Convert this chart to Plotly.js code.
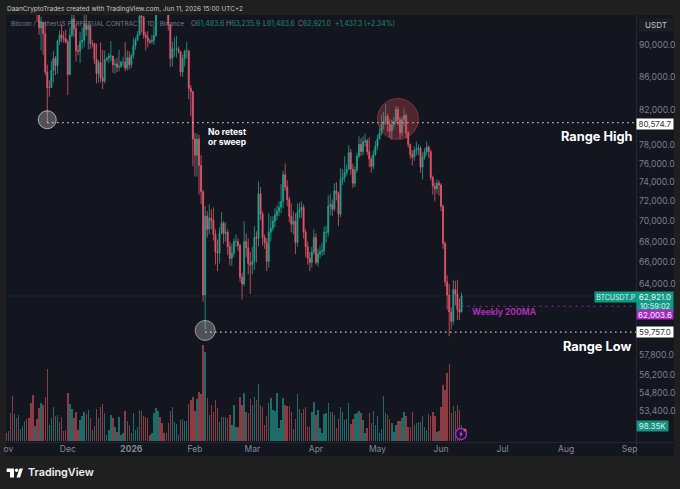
<!DOCTYPE html>
<html><head><meta charset="utf-8">
<script src="https://cdn.plot.ly/plotly-3.0.1.min.js"></script>
<style>html,body{margin:0;padding:0;background:#1f1f1f;overflow:hidden}#c{width:680px;height:489px}</style>
</head><body><div id="c"></div>
<script>
const firstDay = "2025-11-01";
const opens = [110200,110000,110500,106500,101500,103900,101300,103300,102300,104700,
106000,103000,101600,99700,94900,95600,94200,92200,93000,91500,
86600,84700,84700,86800,88300,87400,90500,91300,90900,90800,
90400,86300,91300,93400,92100,89300,89200,90400,90600,92700,
92000,92500,90200,90200,88200,86400,87800,85900,85500,88100,
88300,88600,88600,87500,87600,87200,87300,87800,87800,87100,
88400,87500,88700,89900,90600,91300,93800,93700,91300,91000,
90500,90400,90600,91200,95400,96900,95600,95500,95100,95100,
92600,88300,89500,89500,89500,89200,86600,88300,89200,89200,
84600,84200,78700,76900,78700,75800,73000,63000,70500,69200,
70300,70100,68700,67000,66900,68800,69800,68800,68900,67500,
66400,66900,68000,68000,67600,64600,64000,68000,67400,65900,
65800,66100,68400,68300,72800,70700,68400,67900,66100,68900,
69300,70000,70600,71000,71400,72000,74800,73500,72200,70500,
69700,70000,67900,70900,71200,71400,68900,67500,66400,66000,
67000,68400,66000,66800,67000,67100,68900,68900,71500,71700,
71200,73100,72800,70700,74300,74500,75000,75400,77200,75400,
73900,75300,76800,78100,77300,78400,78500,77300,76500,75700,
77000,77900,78700,79400,80400,80700,81300,80400,79600,80300,
80700,82100,80900,79400,80900,81400,79400,78100,77000,76700,
77400,77600,77700,75600,76700,77300,77800,77300,74500,73600,
73300,73900,73700,71500,67800,64200,63000,61500,60700,63500,
63100,61700,61483.6];
const highs = [111000,111200,110800,107000,104500,104000,104000,103900,105000,106700,
107500,103700,102000,99800,97400,96500,95900,93700,93000,93000,
87500,85600,88000,89200,88600,90700,91900,92700,91800,92000,
90700,92300,94100,94000,92700,90000,91700,92300,94500,94400,
93000,92800,90600,89700,90200,88100,90300,89400,89300,88500,
89000,90500,88000,88200,88400,89400,88000,88500,90400,89300,
89200,88900,90900,91000,91800,94700,94500,93700,91700,91800,
90800,91300,92400,96200,97900,97000,95800,95600,95500,93300,
92700,90400,91000,91200,89800,89200,88800,89400,90400,89400,
85000,84300,79400,79300,79200,76900,73200,71500,71000,71700,
71200,71400,69200,68200,69400,70900,70000,69900,69200,68000,
67800,68300,68700,68300,67800,65000,70000,68800,68300,67000,
67500,69500,69000,74100,73500,71000,68700,68300,70800,70500,
70500,71300,71600,72000,73800,75200,76000,74200,72500,71800,
71000,70800,71800,71900,72000,71700,69200,68000,67000,67500,
69200,68800,67300,67600,67900,69500,69500,72600,72800,72200,
73900,74000,73000,75500,75400,76800,75900,78000,77600,76000,
75700,77200,79000,78800,79000,79300,78700,78900,76800,77500,
78500,79200,79900,81500,81800,82700,81600,81000,80900,81200,
82500,82400,81200,81300,82200,81600,79600,78200,77500,77900,
78400,78100,77900,77200,77700,78400,78000,77500,74700,74000,
74300,74200,73900,71700,68000,64800,64000,61900,64400,64300,
64400,62700,63235.9];
const lows = [109500,109000,105500,99000,100000,100500,100800,101500,101800,105000,
102500,100800,98000,94900,94700,93000,91300,89300,88700,86200,
80600,83600,85300,85300,86200,86400,90000,90300,90300,90200,
83800,86200,91000,91000,87900,88700,87700,89500,89700,91200,
89400,89500,89700,87600,85200,85300,85300,84500,85200,87900,
87700,87900,86500,86400,86600,86700,87100,87300,86700,86800,
86900,87100,88300,89400,90500,91200,91600,90800,89300,89700,
90100,90200,90000,91100,94500,95000,94300,94900,94500,91900,
87200,87300,88500,88400,88900,86100,86000,87300,88300,83300,
81300,75700,74600,74600,72700,71700,62400,60000,68400,68700,
69200,68100,65800,65200,65900,68700,67800,68000,66700,65700,
65700,66500,67500,67100,64200,62600,63800,66500,64900,63100,
64900,65300,66000,67500,70100,67600,67300,65200,65500,68000,
69000,69400,70100,70500,70800,71300,73100,71500,69900,68900,
68700,66800,67500,70300,70300,68300,66500,65800,65200,65500,
66700,65800,65600,66400,66600,66700,67900,68500,70600,70500,
71000,72100,69500,70400,73700,74000,74700,75300,74800,73400,
73500,75000,76600,76800,76900,77900,76900,75600,75000,75400,
76800,77500,78700,79100,79800,80300,79500,78800,78600,79800,
80400,80200,78700,79000,80100,78800,77700,76500,75800,76300,
76900,76900,75000,74300,76400,76900,76600,74200,72700,72000,
72800,72600,71000,67300,63800,61700,59400,60000,60400,62100,
60800,60800,61483.6];
const closes = [110000,110500,106500,101500,103900,101300,103300,102300,104700,106000,
103000,101600,99700,94900,95600,94200,92200,93000,91500,86600,
84700,84700,86800,88300,87400,90500,91300,90900,90800,90400,
86300,91300,93400,92100,89300,89200,90400,90600,92700,92000,
92500,90200,90200,88200,86400,87800,85900,85500,88100,88300,
88600,88600,87500,87600,87200,87300,87800,87800,87100,88400,
87500,88700,89900,90600,91300,93800,93700,91300,91000,90500,
90400,90600,91200,95400,96900,95600,95500,95100,95100,92600,
88300,89500,89500,89500,89200,86600,88300,89200,89200,84600,
84200,78700,76900,78700,75800,73000,63000,70500,69200,70300,
70100,68700,67000,66900,68800,69800,68800,68900,67500,66400,
66900,68000,68000,67600,64600,64000,68000,67400,65900,65800,
66100,68400,68300,72800,70700,68400,67900,66100,68900,69300,
70000,70600,71000,71400,72000,74800,73500,72200,70500,69700,
70000,67900,70900,71200,71400,68900,67500,66400,66000,67000,
68400,66000,66800,67000,67100,68900,68900,71500,71700,71200,
73100,72800,70700,74300,74500,75000,75400,77200,75400,73900,
75300,76800,78100,77300,78400,78500,77300,76500,75700,77000,
77900,78700,79400,80400,80700,81300,80400,79600,80300,80700,
82100,80900,79400,80900,81400,79400,78100,77000,76700,77400,
77600,77700,75600,76700,77300,77800,77300,74500,73600,73300,
73900,73700,71500,67800,64200,63000,61500,60700,63500,63100,
61700,61483.6,62921];
const volumesK = [49,62,172,277,166,141,160,74,92,123,
135,141,234,283,92,135,203,234,221,271,
443,98,141,209,154,160,117,148,62,68,
295,228,197,141,178,68,129,154,178,166,
191,141,68,92,197,141,209,228,172,37,
68,160,141,86,55,148,37,49,185,123,
98,49,172,68,86,191,185,154,148,141,
37,49,172,203,185,148,111,49,49,111,
185,209,117,105,37,129,135,123,123,228,
252,271,185,258,301,289,590,547,264,160,
221,178,252,203,117,148,148,148,141,160,
98,221,86,86,271,221,295,178,172,258,
221,271,252,351,221,209,98,154,234,264,
191,185,295,80,129,264,221,215,215,178,
74,135,289,197,172,197,209,92,86,178,
240,160,191,80,49,166,172,234,178,178,
160,80,135,209,178,129,135,234,105,135,
166,172,185,172,129,49,80,172,111,185,
98,154,49,74,277,172,160,135,111,55,
98,123,123,141,178,154,86,86,178,98,
111,117,117,154,86,68,166,154,178,154,
55,62,209,344,314,418,474,172,215,185,
221,191,98.35];
const axisDates = ["2025-11-02","2025-12-01","2026-01-01","2026-02-01","2026-03-01","2026-04-01","2026-05-01","2026-06-01","2026-07-01","2026-08-01","2026-09-01"];
const axisLabels = ["ov","Dec","<b>2026</b>","Feb","Mar","Apr","May","Jun","Jul","Aug","Sep"];
const priceTicks = [90000,86000,82000,78000,76000,74000,72000,70000,68000,66000,64000,57800,56200,54800,53400];
const priceLabels = priceTicks.map(v => v.toLocaleString("en-US",{minimumFractionDigits:1}));
const rangeHigh = 80574.7, rangeLow = 59757.0, lastPrice = 62921.0, weeklyMA = 62003.6;

const UP = "#1fa68f", DOWN = "#e6586c";
const VUP = "#1e6c68", VDOWN = "#8c3a44";
const FONT = "Inter, 'Liberation Sans', sans-serif";

const dates = closes.map((_, i) => {
  const d = new Date(firstDay + "T00:00:00Z"); d.setUTCDate(d.getUTCDate() + i);
  return d.toISOString().slice(0, 10);
});

const W = 680, H = 489, L = 6, R = 636, T = 15, B = 442;
const px = x => (x - L) / (R - L), py = y => (B - y) / (B - T);
const PRICE_BOTTOM = 51090, PRICE_TOP = 93934;
const pf = p => (Math.log10(p) - Math.log10(PRICE_BOTTOM)) / (Math.log10(PRICE_TOP) - Math.log10(PRICE_BOTTOM));

function txt(x, y, text, o) {
  o = o || {};
  return Object.assign({xref:"paper", yref:"paper", x:px(x), y:py(y), text:text, showarrow:false,
    xanchor:"left", yanchor:"middle", borderpad:0, align:"left",
    font:{family:FONT, size:o.size||8.5, color:o.color||"#fff", weight:o.weight||400}}, o.extra||{});
}
function box(x, y, w, h, text, bg, color, size, o) {
  return Object.assign({xref:"paper", yref:"paper", x:px(x), y:py(y), xanchor:"left", yanchor:"top",
    width:w, height:h, bgcolor:bg, text:text, showarrow:false, borderpad:0, align:"center", valign:"middle",
    font:{family:FONT, size:size||8, color:color}}, o||{});
}
function prect(x0, y0, x1, y1, fill, layer) {
  return {type:"rect", xref:"paper", yref:"paper", x0:px(x0), x1:px(x1), y0:py(y0), y1:py(y1),
    fillcolor:fill, line:{width:0}, layer:layer||"below"};
}
function ppath(pts, fill) {
  const d = pts.map((p,i)=>(i?"L":"M")+px(p[0]).toFixed(5)+","+py(p[1]).toFixed(5)).join(" ")+" Z";
  return {type:"path", xref:"paper", yref:"paper", path:d, fillcolor:fill, line:{width:0}, layer:"above"};
}
function ring(date, price, r, fill, stroke, lw) {
  return {type:"circle", xref:"x", yref:"paper", xsizemode:"pixel", ysizemode:"pixel", xanchor:date, yanchor:pf(price),
    x0:-r, x1:r, y0:-r, y1:r, fillcolor:fill, line:{color:stroke, width:lw||1}, layer:"above"};
}
function hline(d0, d1, price, color, w, dash) {
  return {type:"line", xref:"x", yref:"paper", x0:d0, x1:d1, y0:pf(price), y1:pf(price), line:{color:color, width:w, dash:dash}, layer:"above"};
}

const xEnd = "2026-09-04 02:00";
const traces = [
  {type:"bar", x:dates, y:volumesK, yaxis:"y2", width:1400*60*1000*0.72,
   marker:{color:closes.map((c,i)=>c>=opens[i]?VUP:VDOWN), line:{width:0}}, hoverinfo:"skip", showlegend:false},
  {type:"candlestick", x:dates, open:opens, high:highs, low:lows, close:closes, yaxis:"y", whiskerwidth:0,
   increasing:{line:{color:UP,width:0.8},fillcolor:UP}, decreasing:{line:{color:DOWN,width:0.8},fillcolor:DOWN},
   hoverinfo:"skip", showlegend:false}
];

const vg = "#787d87", vt = "#1b8c7a";
const seg = (label, value) => `<span style="color:${vg}">${label}</span><span style="color:${vt}">${value}</span>`;

const layout = {
  width:W, height:H, margin:{l:L, r:W-R, t:T, b:H-B, pad:0},
  paper_bgcolor:"#1f1f1f", plot_bgcolor:"#13151f", showlegend:false, dragmode:false, bargap:0,
  xaxis:{type:"date", range:["2025-10-31 21:00", xEnd], rangeslider:{visible:false}, showgrid:false, zeroline:false,
    tickmode:"array", tickvals:axisDates, ticktext:axisLabels, ticks:"", ticklen:0, showline:false,
    tickfont:{family:FONT, size:8.5, color:"#858a94"}, ticklabelstandoff:0},
  yaxis:{type:"log", side:"right", range:[Math.log10(PRICE_BOTTOM), Math.log10(PRICE_TOP)], autorange:false,
    showgrid:false, zeroline:false, showline:false, ticks:"", tickmode:"array", tickvals:priceTicks, ticktext:priceLabels,
    tickfont:{family:FONT, size:8.6, color:"#7d828c"}, ticklabelstandoff:2},
  yaxis2:{overlaying:"y", side:"left", range:[-6,2620], autorange:false, visible:false, fixedrange:true},
  shapes:[
    prect(6,15,674,456,"#13151f"),
    prect(636,15,636.8,456,"#2b2e38"),
    prect(6,442,674,442.7,"#2b2e38"),
    hline(dates[0], xEnd, lastPrice, "rgba(40,150,135,0.55)", 1, "1px,3px"),
    hline(dates[222], xEnd, weeklyMA, "rgba(176,50,190,0.85)", 1, "2px,4px"),
    hline(dates[20], xEnd, rangeHigh, "#e8e8e8", 1.3, "1.3px,3.7px"),
    hline(dates[97], xEnd, rangeLow, "#e8e8e8", 1.3, "1.3px,3.7px"),
    ring(dates[20], 80900, 9, "rgba(255,255,255,0.26)", "rgba(255,255,255,0.6)", 1),
    ring(dates[97], 59900, 10, "rgba(255,255,255,0.26)", "rgba(255,255,255,0.5)", 1),
    ring(dates[191], 81000, 20.5, "rgba(225,75,90,0.3)", "rgba(225,75,90,0.4)", 1),
    {type:"circle", xref:"paper", yref:"paper", xsizemode:"pixel", ysizemode:"pixel", xanchor:px(461), yanchor:py(434),
     x0:-5.5,x1:5.5,y0:-5.5,y1:5.5, fillcolor:"#1b1430", line:{color:"#a12fc0", width:1.4}, layer:"above"},
    ppath([[462,430.5],[459,434.5],[460.8,434.5],[460,437.5],[463,433.5],[461.2,433.5]],"#c04fe0"),
    {type:"circle", xref:"paper", yref:"paper", xsizemode:"pixel", ysizemode:"pixel", xanchor:px(465), yanchor:py(430),
     x0:-1.6,x1:1.6,y0:-1.6,y1:1.6, fillcolor:"#ef4a5a", line:{width:0}, layer:"above"},
    ppath([[6.7,468.5],[14,468.5],[14,477.5],[10,477.5],[10,472],[6.7,472]],"#fff"),
    ppath([[16.5,477.5],[19.5,468.5],[23,468.5],[20,477.5]],"#fff"),
    {type:"circle", xref:"paper", yref:"paper", xsizemode:"pixel", ysizemode:"pixel", xanchor:px(16.6), yanchor:py(470.2),
     x0:-1.7,x1:1.7,y0:-1.7,y1:1.7, fillcolor:"#fff", line:{width:0}, layer:"above"}
  ],
  annotations:[
    txt(6,8.5,"DaanCryptoTrades created with TradingView.com, Jun 11, 2026 15:00 UTC+2",{size:6.5,color:"#c8c8c8"}),
    txt(10,23.5,"Bitcoin / TetherUS PERPETUAL CONTRACT · 1D · Binance",{size:6.4,color:vg}),
    txt(190,23.5,seg("O","61,483.6"),{size:6.9}),
    txt(225,23.5,seg("H","63,235.9"),{size:6.9}),
    txt(262,23.5,seg("L","61,483.6"),{size:6.9}),
    txt(297,23.5,seg("C","62,921.0"),{size:6.9}),
    txt(334,23.5,seg("","+1,437.3 (+2.34%)"),{size:6.9}),
    txt(207,132,"No retest",{size:8.5,weight:700}),
    txt(207,142,"or sweep",{size:8.5,weight:700}),
    txt(560,136,"Range High",{size:12.8,weight:700}),
    txt(562,346,"Range Low",{size:12.8,weight:700}),
    txt(471,312,"Weekly 200MA",{size:8.5,weight:700,color:"#a930b8"}),
    box(638,18,34,12,"USDT","#1c1e26","#c4c6cc",8),
    box(594,291,42,10,"BTCUSDT.P","#109a84","#d8f3ee",7),
    box(636,291,36,9.5,"62,921.0","#109a84","#e8f8f5",8),
    box(636,300.5,36,8.5,"10:59:02","#109a84","#e8f8f5",7.4),
    box(636,309,36,9,"62,003.6","#a62bc0","#f4e8f8",8),
    box(636,118,36,10,"80,574.7","#ffffff","#333",8),
    box(636,326,36,10,"59,757.0","#ffffff","#333",8),
    box(636,420,31,9.5,"98.35K","#168f7e","#d8f3ee",8),
    txt(27,472.5,"TradingView",{size:10.8,weight:600,color:"#f0f0f0"})
  ]
};
Plotly.newPlot("c", traces, layout, {displayModeBar:false, staticPlot:true});
</script></body></html>
